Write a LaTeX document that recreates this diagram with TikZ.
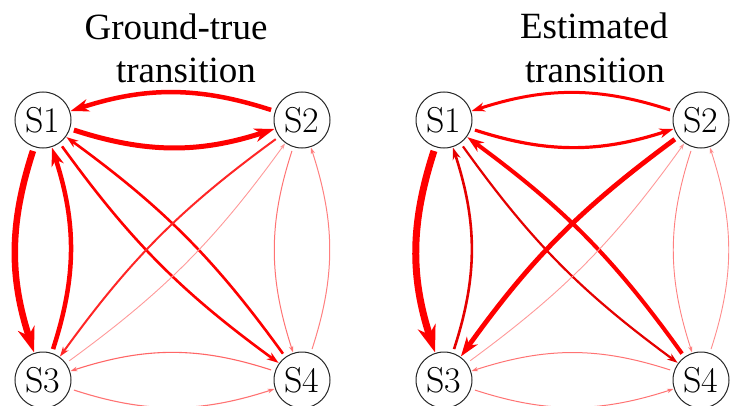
\documentclass[tikz,border=0pt]{standalone}
\usepackage{fontspec}
\newfontfamily\tnr{Liberation Serif}
\usetikzlibrary{arrows.meta}
\tikzset{
  st/.style={circle, draw=black!85, line width=1pt, minimum size=56pt, inner sep=0pt,
             font=\fontsize{36}{36}\selectfont},
  ttl/.style={anchor=base, font=\tnr\fontsize{37}{37}\selectfont},
  ed/.style 2 args={draw=#2, line width=#1,
     -{Stealth[length=3pt 3.4, width'=0pt 0.68, inset'=0pt 0.3, fill=#2]},
     shorten <=4pt, shorten >=0.5pt},
  arc/.style={bend right=18},
  dia/.style={bend right=9}
}
\begin{document}
\begin{tikzpicture}[x=1pt,y=1pt]
\useasboundingbox (0,0) rectangle (730,405);
% titles
\node[ttl] (t1) at (176,365) {Ground-true};
\node[ttl] (t2) at (186,322) {transition};
\node[ttl] (t3) at (594,366) {Estimated};
\node[ttl] (t4) at (595,322) {transition};
% left panel nodes
\node[st] (a1) at (43,285) {S1};
\node[st] (a2) at (302,285) {S2};
\node[st] (a3) at (43,25) {S3};
\node[st] (a4) at (302,25) {S4};
% right panel nodes
\node[st] (b1) at (444,285) {S1};
\node[st] (b2) at (701,285) {S2};
\node[st] (b3) at (444,25) {S3};
\node[st] (b4) at (701,25) {S4};
% left panel edges
\draw[ed={4.5pt}{red}] (a2) to[arc] (a1);
\draw[ed={5pt}{red}] (a1) to[arc] (a2);
\draw[ed={6.5pt}{red}] (a1) to[arc] (a3);
\draw[ed={4.5pt}{red}] (a3) to[arc] (a1);
\draw[ed={2.6pt}{red}] (a1) to[dia] (a4);
\draw[ed={2.6pt}{red}] (a4) to[dia] (a1);
\draw[ed={2pt}{red!85}] (a2) to[dia] (a3);
\draw[ed={0.9pt}{red!40}] (a3) to[dia] (a2);
\draw[ed={1pt}{red!55}] (a2) to[arc] (a4);
\draw[ed={1pt}{red!50}] (a4) to[arc] (a2);
\draw[ed={1.1pt}{red!60}] (a4) to[arc] (a3);
\draw[ed={1.1pt}{red!55}] (a3) to[arc] (a4);
% right panel edges
\draw[ed={3pt}{red}] (b2) to[arc] (b1);
\draw[ed={3.2pt}{red}] (b1) to[arc] (b2);
\draw[ed={7pt}{red}] (b1) to[arc] (b3);
\draw[ed={2.6pt}{red!90!black}] (b3) to[arc] (b1);
\draw[ed={2.2pt}{red!90!black}] (b1) to[dia] (b4);
\draw[ed={4pt}{red}] (b4) to[dia] (b1);
\draw[ed={4.8pt}{red}] (b2) to[dia] (b3);
\draw[ed={0.9pt}{red!40}] (b3) to[dia] (b2);
\draw[ed={0.9pt}{red!50}] (b2) to[arc] (b4);
\draw[ed={0.9pt}{red!45}] (b4) to[arc] (b2);
\draw[ed={1pt}{red!55}] (b4) to[arc] (b3);
\draw[ed={1pt}{red!55}] (b3) to[arc] (b4);
\end{tikzpicture}
\end{document}
